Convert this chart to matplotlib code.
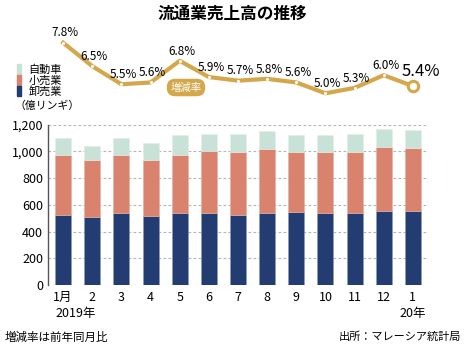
import matplotlib
matplotlib.use("Agg")
import matplotlib.pyplot as plt
from matplotlib.patches import Rectangle
import numpy as np

plt.rcParams['font.family'] = ['Liberation Sans Narrow', 'Noto Sans CJK JP', 'DejaVu Sans']

# monthly sales, 100 million ringgit
months = ['1月', '2', '3', '4', '5', '6', '7', '8', '9', '10', '11', '12', '1']
wholesale = [525, 508, 537, 517, 537, 537, 525, 537, 547, 537, 537, 557, 557]
retail = [450, 427, 438, 418, 438, 468, 470, 478, 448, 458, 458, 478, 468]
auto = [122, 102, 122, 125, 145, 125, 135, 135, 125, 125, 135, 135, 135]
# year-on-year growth, %
growth = [7.8, 6.5, 5.5, 5.6, 6.8, 5.9, 5.7, 5.8, 5.6, 5.0, 5.3, 6.0, 5.4]
yticks = [0, 200, 400, 600, 800, 1000, 1200]

c_whole = '#233d72'
c_retail = '#d9826d'
c_auto = '#c8e2d8'
c_gold = '#d4a84a'

W, H = 465, 349
fig = plt.figure(figsize=(W / 100, H / 100), dpi=100)

def fx(px):
    return px / W

def fy(py):
    return 1 - py / H

x = np.arange(len(months))

# stacked bars
ax = fig.add_axes([fx(48), fy(285), fx(380), (285 - 124.7) / H])
bw = 0.55
ax.bar(x, wholesale, bw, color=c_whole, edgecolor='#8a9ab8', linewidth=0.4, zorder=3)
ax.bar(x, retail, bw, bottom=wholesale, color=c_retail, edgecolor='#e8b0a2', linewidth=0.4, zorder=3)
bot2 = np.array(wholesale) + np.array(retail)
ax.bar(x, auto, bw, bottom=bot2, color=c_auto, edgecolor='#e2efe9', linewidth=0.4, zorder=3)

ax.set_xlim(-0.52, 12.52)
ax.set_ylim(0, 1200)
ax.set_yticks(yticks)
ax.set_yticklabels([f'{v:,}' for v in yticks], fontsize=9)
ax.set_xticks(x)
ax.set_xticklabels(months, fontsize=9)
ax.tick_params(length=0, pad=4.5)
ax.tick_params(axis='y', pad=3.5)
for v in yticks:
    ax.axhline(v, color='#b5b5b5', lw=0.8, ls=(0, (2.5, 2)), zorder=1)
for s in ['top', 'right', 'bottom']:
    ax.spines[s].set_visible(False)
ax.spines['left'].set_color('#555555')
ax.spines['left'].set_linewidth(1.0)

tr = ax.get_xaxis_transform()
ax.text(-0.28, -0.175, '2019年', transform=tr, fontsize=9, ha='left', va='center')
ax.text(12, -0.175, '20年', transform=tr, fontsize=9, ha='center', va='center')

# growth line
lx = fig.add_axes([fx(48), fy(110), fx(380), 80 / H])
lx.set_xlim(-0.52, 12.52)
lx.set_ylim(4.076, 8.503)
lx.axis('off')
lx.patch.set_alpha(0)
lx.plot(x, growth, color=c_gold, lw=3.0, solid_joinstyle='round', zorder=2)
lx.plot(x[:-1], growth[:-1], 'o', ms=2.2, color='white', mec='none', zorder=3)
lx.plot(x[-1], growth[-1], 'o', ms=7.5, mfc='white', mec=c_gold, mew=2.2, zorder=4)
for i, g in enumerate(growth[:-1]):
    lx.annotate(f'{g:.1f}%', (x[i], g), xytext=(1.5, 7), textcoords='offset points',
                ha='center', va='center', fontsize=8.5)
lx.annotate(f'{growth[-1]:.1f}%', (x[-1], growth[-1]), xytext=(6, 10.5),
            textcoords='offset points', ha='center', va='center', fontsize=12)

fig.text(fx(186), fy(87.5), '増減率', fontsize=7.5, color='white', ha='center', va='center',
         family='Noto Sans CJK JP',
         bbox=dict(boxstyle='round,pad=0.35,rounding_size=0.8', fc=c_gold, ec='none'))

# legend
for i, (lab, col) in enumerate([('自動車', c_auto), ('小売業', c_retail), ('卸売業', c_whole)]):
    top = 64.5 + i * 10.8
    fig.patches.append(Rectangle((fx(17.3), fy(top + 10.3)), fx(4), 10.3 / H,
                                 transform=fig.transFigure, color=col))
    fig.text(fx(28.5), fy(top + 5.2), lab, fontsize=8, ha='left', va='center',
             family='Noto Sans CJK JP')
fig.text(fx(14), fy(106), '（億リンギ）', fontsize=7.8, ha='left', va='center',
         family='Noto Sans CJK JP')

fig.text(0.5, fy(13.5), '流通業売上高の推移', fontsize=12, fontweight='bold',
         ha='center', va='center', family='Noto Sans CJK JP')
fig.text(fx(5), fy(337), '増減率は前年同月比', fontsize=8.3, ha='left', va='center',
         family='Noto Sans CJK JP')
fig.text(fx(461), fy(337), '出所：マレーシア統計局', fontsize=8, ha='right', va='center',
         family='Noto Sans CJK JP')

fig.savefig('out.png', dpi=100)
